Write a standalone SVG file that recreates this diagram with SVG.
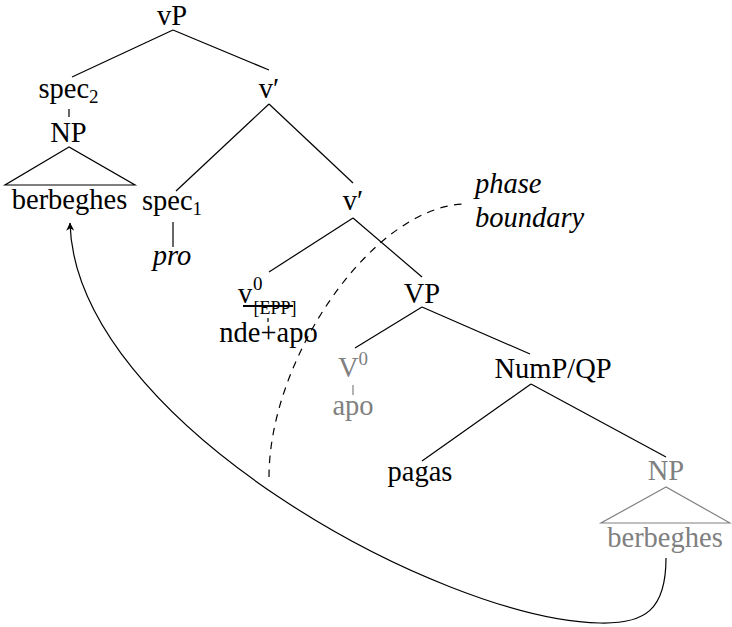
<svg xmlns="http://www.w3.org/2000/svg" width="732" height="627" viewBox="0 0 732 627">
  <style>
    text { font-family: "Liberation Serif", "Times New Roman", serif; font-size: 28.5px; fill: #000; }
    .mid { text-anchor: middle; }
    .it { font-style: italic; }
    .sm { font-size: 19px; }
    .xs { font-size: 18px; }
    .ghost { fill: #808080; }
    .edge { stroke: #000; stroke-width: 1.2; fill: none; }
    .edge-ghost { stroke: #808080; stroke-width: 1.2; fill: none; }
    .phase { stroke: #000; stroke-width: 1.2; fill: none; stroke-dasharray: 7.5 6.5; }
    .move { stroke: #000; stroke-width: 1.2; fill: none; }
  </style>
  <defs>
    <marker id="arrowhead" viewBox="0 0 10 10" refX="9.5" refY="5" markerUnits="userSpaceOnUse" markerWidth="10" markerHeight="8" orient="auto">
      <path d="M0,0 L10,5 L0,10 L3,5 z" fill="#000"/>
    </marker>
  </defs>

  <rect width="732" height="627" fill="#fff"/>

  <!-- tree branches and movement connectors -->
  <g id="connectors">
    <line class="edge" x1="173" y1="30" x2="72" y2="77"/>
    <line class="edge" x1="173" y1="30" x2="269" y2="70"/>
    <line class="edge" x1="69" y1="109" x2="69" y2="117"/>
    <polygon class="edge" points="69,147 5,185 135,185"/>
    <line class="edge" x1="269" y1="104" x2="176" y2="191"/>
    <line class="edge" x1="269" y1="104" x2="353" y2="183"/>
    <line class="edge" x1="173" y1="222" x2="173" y2="247"/>
    <line class="edge" x1="353" y1="218" x2="269" y2="272"/>
    <line class="edge" x1="353" y1="218" x2="422" y2="277"/>
    <line class="edge" x1="268" y1="318" x2="268" y2="322"/>
    <line class="edge" x1="422" y1="307" x2="355" y2="348"/>
    <line class="edge" x1="422" y1="307" x2="530" y2="354"/>
    <line class="edge-ghost" x1="353" y1="385" x2="353" y2="395"/>
    <line class="edge" x1="531" y1="384" x2="422" y2="461"/>
    <line class="edge" x1="531" y1="384" x2="666" y2="457"/>
    <polygon class="edge-ghost" points="666,487 601,523 730,523"/>
    <!-- phase boundary -->
    <path class="phase" d="M269,477 C269,360 370,210 462,204"/>
    <!-- movement of the object NP -->
    <path class="move" d="M666,558 C666,610 645,624 600,623 C440,620 75,420 70,223" marker-end="url(#arrowhead)"/>
  </g>

  <g id="vP"><text class="mid" x="172" y="25">vP</text></g>
  <g id="spec2"><text class="mid" x="68.5" y="98">spec<tspan class="sm" dy="5">2</tspan></text></g>
  <g id="NP-high"><text class="mid" x="68.5" y="142">NP</text></g>
  <g id="berbeghes-high"><text class="mid" x="69.5" y="209">berbeghes</text></g>
  <g id="vbar1"><text class="mid" x="269" y="98">v′</text></g>
  <g id="spec1"><text class="mid" x="172" y="210">spec<tspan class="sm" dy="5">1</tspan></text></g>
  <g id="pro"><text class="mid it" x="172" y="265">pro</text></g>
  <g id="vbar2"><text class="mid" x="353" y="210">v′</text></g>
  <g id="v0">
    <text x="238" y="303">v</text>
    <text class="sm" x="253" y="290">0</text>
    <text class="xs" x="253.5" y="314">[EPP]</text>
    <line x1="243" y1="306" x2="293" y2="306" stroke="#000" stroke-width="2.2"/>
  </g>
  <g id="nde-apo"><text class="mid" x="268.5" y="342">nde+apo</text></g>
  <g id="VP"><text class="mid" x="422" y="303">VP</text></g>
  <g id="V0">
    <text class="ghost" x="338" y="377">V</text>
    <text class="ghost sm" x="358.5" y="365">0</text>
  </g>
  <g id="apo"><text class="mid ghost" x="353" y="415">apo</text></g>
  <g id="NumP"><text class="mid" x="553" y="378">NumP/QP</text></g>
  <g id="pagas"><text class="mid" x="420" y="481">pagas</text></g>
  <g id="NP-low"><text class="mid ghost" x="666" y="480">NP</text></g>
  <g id="berbeghes-low"><text class="mid ghost" x="665" y="547">berbeghes</text></g>
  <g id="phase-label">
    <text class="it" x="475" y="193">phase</text>
    <text class="it" x="475" y="227">boundary</text>
  </g>
</svg>
